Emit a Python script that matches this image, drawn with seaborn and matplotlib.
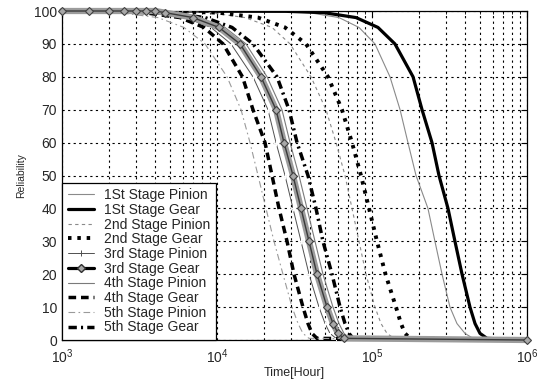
import matplotlib
matplotlib.use("Agg")
import matplotlib.pyplot as plt
import seaborn as sns
import pandas as pd
from matplotlib.lines import Line2D
from matplotlib.ticker import LogLocator, FixedLocator

sns.set_style("white")
plt.rcParams['font.family'] = ['Liberation Sans', 'DejaVu Sans']
plt.rcParams['mathtext.fontset'] = 'custom'
plt.rcParams['mathtext.rm'] = 'Liberation Sans'

# ---------------- data ----------------
labels = ["1St Stage Pinion", "1St Stage Gear", "2nd Stage Pinion", "2nd Stage Gear",
          "3rd Stage Pinion", "3rd Stage Gear", "4th Stage Pinion", "4th Stage Gear",
          "5th Stage Pinion", "5th Stage Gear"]

# reliability (%) levels at which times were read; first point is t=1e3, last is t=1e6
R_levels = [100, 99.9, 99.5, 98, 95, 90, 80, 70, 60, 50, 40, 30, 20, 10, 5, 2, 0.5, 0]

t_1st_pinion = [1e3, 23320, 39220, 61240, 82450, 104500, 130600, 151700, 170600, 192300,
                229600, 254700, 283100, 318400, 353300, 398100, 448400, 1e6]
t_1st_gear   = [1e3, 27870, 48990, 78850, 109300, 140600, 184000, 210300, 243800, 270500,
                309200, 342900, 381000, 428700, 462000, 497600, 551900, 1e6]
t_2nd_pinion = [1e3, 5358, 9015, 15160, 22640, 29590, 40390, 50490, 58610, 66960,
                74300, 82450, 91450, 104500, 114300, 125000, 138700, 1e6]
t_2nd_gear   = [1e3, 5050, 10150, 18390, 27470, 37500, 52000, 64000, 74300, 84900,
                95700, 107700, 122200, 142800, 153800, 163300, 175800, 1e6]
t_3rd_pinion = [1e3, 1785, 3483, 6218, 9148, 12310, 17070, 21330, 24030, 27470,
                30920, 34840, 39230, 45500, 49770, 53580, 58610, 1e6]
t_4th_pinion = [1e3, 2198, 4290, 7655, 11260, 15380, 21030, 26250, 29590, 33810,
                38070, 42880, 48270, 56010, 61240, 65960, 72110, 1e6]
t_4th_gear   = [1e3, 1811, 3381, 5771, 8246, 10940, 14600, 17070, 20400, 22640,
                25120, 28300, 31390, 35870, 38640, 41020, 44170, 1e6]
t_5th_pinion = [1e3, 1195, 2332, 4160, 6124, 8370, 11610, 14290, 16330, 18390,
                20700, 23320, 26650, 30480, 33340, 35870, 39220, 1e6]
t_5th_gear   = [1e3, 2298, 4620, 8370, 12500, 17070, 24380, 29160, 32840, 38640,
                43520, 48270, 55210, 62230, 66960, 71100, 75400, 1e6]

t_3rd_gear = [1e3, 1500, 2000, 2500, 3000, 3500, 4000, 4620, 7000, 10300, 14070, 19220,
              24030, 27050, 30920, 34840, 39230, 44170, 51290, 56010, 60390, 65960, 1e6]
R_3rd_gear = [100, 100, 100, 100, 100, 100, 100, 99.5, 98, 95, 90, 80,
              70, 60, 50, 40, 30, 20, 10, 5, 2, 0.5, 0]

x_ticks = [1e3, 1e4, 1e5, 1e6]
y_ticks = [0, 10, 20, 30, 40, 50, 60, 70, 80, 90, 100]

# ---------------- figure ----------------
fig = plt.figure(figsize=(5.46, 3.81), dpi=100)
ax = fig.add_axes([62 / 546, 41 / 381, 465 / 546, 329 / 381])
ax.set_xscale('log')

styles = {
    "1St Stage Pinion": dict(color='#8a8a8a', lw=0.8, linestyle='-'),
    "1St Stage Gear":   dict(color='black', lw=2.3, linestyle='-'),
    "2nd Stage Pinion": dict(color='#8a8a8a', lw=0.8, linestyle=(0, (3, 3))),
    "2nd Stage Gear":   dict(color='black', lw=2.8, linestyle=(0, (0.9, 1.5))),
    "3rd Stage Pinion": dict(color='#505050', lw=0.7, linestyle='-', marker='+', ms=5, mew=0.7),
    "4th Stage Pinion": dict(color='#7a7a7a', lw=0.8, linestyle='-'),
    "4th Stage Gear":   dict(color='black', lw=2.5, linestyle=(0, (2.2, 1.4))),
    "5th Stage Pinion": dict(color='#9a9a9a', lw=0.8, linestyle=(0, (6, 3, 1.5, 3))),
    "5th Stage Gear":   dict(color='black', lw=2.5, linestyle=(0, (2.4, 1.2, 0.6, 1.2))),
}

series = {
    "1St Stage Pinion": t_1st_pinion,
    "1St Stage Gear": t_1st_gear,
    "2nd Stage Pinion": t_2nd_pinion,
    "2nd Stage Gear": t_2nd_gear,
    "3rd Stage Pinion": t_3rd_pinion,
    "4th Stage Pinion": t_4th_pinion,
    "4th Stage Gear": t_4th_gear,
    "5th Stage Pinion": t_5th_pinion,
    "5th Stage Gear": t_5th_gear,
}

# 3rd stage gear: dense marker band
df3 = pd.DataFrame({"t": t_3rd_gear, "R": R_3rd_gear})
n0 = len(ax.lines)
sns.lineplot(data=df3, x="t", y="R", ax=ax, sort=False, estimator=None,
             color='#9c9c9c', lw=4.5, zorder=6)
sns.lineplot(data=df3, x="t", y="R", ax=ax, sort=False, estimator=None,
             color='#3a3a3a', lw=1.0, marker='D', ms=4, mfc='#a8a8a8', mec='#404040', mew=0.8,
             zorder=6)
for ln in ax.lines[n0:]:
    ln.set_clip_on(False)

for name, tvals in series.items():
    d = pd.DataFrame({"t": tvals, "R": R_levels})
    sns.lineplot(data=d, x="t", y="R", ax=ax, sort=False, estimator=None,
                 zorder=5, **styles[name])

ax.set_xlim(1e3, 1e6)
ax.set_ylim(0, 100)
ax.xaxis.set_major_locator(FixedLocator(x_ticks))
ax.xaxis.set_minor_locator(LogLocator(base=10, subs=range(2, 10)))
ax.yaxis.set_major_locator(FixedLocator(y_ticks))

ax.grid(True, which='major', color='black', linestyle=(0, (2, 3)), lw=0.8)
ax.grid(True, which='minor', axis='x', color='black', linestyle=(0, (2, 3)), lw=0.8)
ax.tick_params(which='both', direction='in', top=True, right=True, labelsize=10,
               color='black', length=4)
ax.tick_params(which='minor', length=2, labelbottom=False)
ax.tick_params(axis='x', pad=5)
for s in ax.spines.values():
    s.set_color('black')
    s.set_linewidth(0.9)

ax.set_xlabel("Time[Hour]", fontsize=9, labelpad=1)
ax.set_ylabel("Reliability", fontsize=7.5, labelpad=6)

# legend
handles = []
for name in labels:
    if name == "3rd Stage Gear":
        h = Line2D([], [], color='black', lw=2.3, marker='D', ms=4.5, mfc='#a8a8a8', mec='#303030')
    else:
        h = Line2D([], [], **styles[name])
    handles.append(h)
leg = ax.legend(handles, labels, loc='lower left', bbox_to_anchor=(0, 0), borderaxespad=0,
                fontsize=10, labelspacing=0.05, handlelength=1.9, handletextpad=0.75,
                borderpad=0.4, fancybox=False, framealpha=1, edgecolor='black')
leg.get_frame().set_linewidth(0.9)
leg.set_zorder(10)

fig.savefig("out.png", dpi=100)
